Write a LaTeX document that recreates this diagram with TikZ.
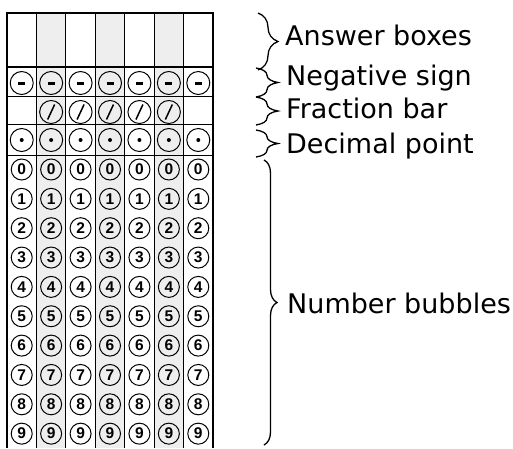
\documentclass[tikz,border=0pt]{standalone}
\usepackage{fontspec}
\setmainfont{DejaVu Sans}
\newfontfamily\bubbleFont{Liberation Sans}
\usetikzlibrary{decorations.pathreplacing}

\definecolor{columnShade}{gray}{0.935}

\tikzset{
  bubble/.style={circle, draw, line width=1pt, minimum size=21pt, inner sep=0pt,
    font=\bubbleFont\bfseries\fontsize{15.5}{15.5}\selectfont},
  signBubble/.style={bubble, minimum size=23pt},
  labelText/.style={anchor=base west, inner sep=0pt, font=\fontsize{27}{30}\selectfont},
  curlyBrace/.style={decorate, decoration={brace, amplitude=#1}, line width=1.3pt},
  curlyBrace/.default=20
}

\begin{document}
\begin{tikzpicture}[x=1pt, y=-1pt]
    \useasboundingbox (0,0) rectangle (513,448);

    \newcommand{\colX}[1]{7+(#1-0.5)*29.43}

    % shaded columns
    \foreach \c in {2,4,6} {
        \fill[columnShade] ({7+(\c-1)*29.43}, 13) rectangle ++(29.43, 435);
    }

    % grid lines
    \foreach \c in {1, ..., 6} {
        \draw[line width=0.8pt] ({7+\c*29.43}, 13) -- ({7+\c*29.43}, 448);
    }
    \foreach \y in {96, 124, 155} {
        \draw[line width=0.8pt] (7, \y) -- (213, \y);
    }
    \draw[line width=2pt] (7, 67) -- (213, 67);
    \draw[line width=2.4pt] (7, 448) -- (7, 13) -- (213, 13) -- (213, 448);

    % bubbles
    \foreach \c in {1, ..., 7} {
        \node[signBubble] (Minus\c) at ({\colX{\c}}, 83) {};
        \draw[line width=3pt] ([xshift=-3.5pt]Minus\c.center) -- ([xshift=3.5pt]Minus\c.center);
        \node[signBubble] (Point\c) at ({\colX{\c}}, 140) {};
        \fill (Point\c.center) circle (2pt);
        \foreach \d in {0, ..., 9} {
            \node[bubble] (Digit\c\d) at ({\colX{\c}}, {169.5+\d*29.35}) {\d};
        }
    }
    \foreach \c in {2, ..., 6} {
        \node[signBubble] (Slash\c) at ({\colX{\c}}, 112) {};
        \draw[line width=1.5pt] ([shift={(-3.5,7.5)}]Slash\c.center) -- ([shift={(3.5,-7.5)}]Slash\c.center);
    }

    % braces and labels
    \coordinate (AnswerTop) at (258, 13);
    \coordinate (AnswerBottom) at (258, 70);
    \draw[curlyBrace] (AnswerTop) -- (AnswerBottom);
    \node[labelText] (AnswerLabel) at (285, 45) {Answer boxes};

    \coordinate (MinusTop) at (256, 68);
    \coordinate (MinusBottom) at (256, 97);
    \draw[curlyBrace=22] (MinusTop) -- (MinusBottom);
    \node[labelText] (MinusLabel) at (286, 85) {Negative sign};

    \coordinate (SlashTop) at (256, 97);
    \coordinate (SlashBottom) at (256, 125);
    \draw[curlyBrace=22] (SlashTop) -- (SlashBottom);
    \node[labelText] (SlashLabel) at (286, 118) {Fraction bar};

    \coordinate (PointTop) at (256, 130);
    \coordinate (PointBottom) at (256, 157);
    \draw[curlyBrace=22] (PointTop) -- (PointBottom);
    \node[labelText] (PointLabel) at (286, 153) {Decimal point};

    \coordinate (DigitTop) at (264, 160);
    \coordinate (DigitBottom) at (264, 445);
    \draw[curlyBrace=13] (DigitTop) -- (DigitBottom);
    \node[labelText] (DigitLabel) at (287, 313) {Number bubbles};

\end{tikzpicture}
\end{document}
